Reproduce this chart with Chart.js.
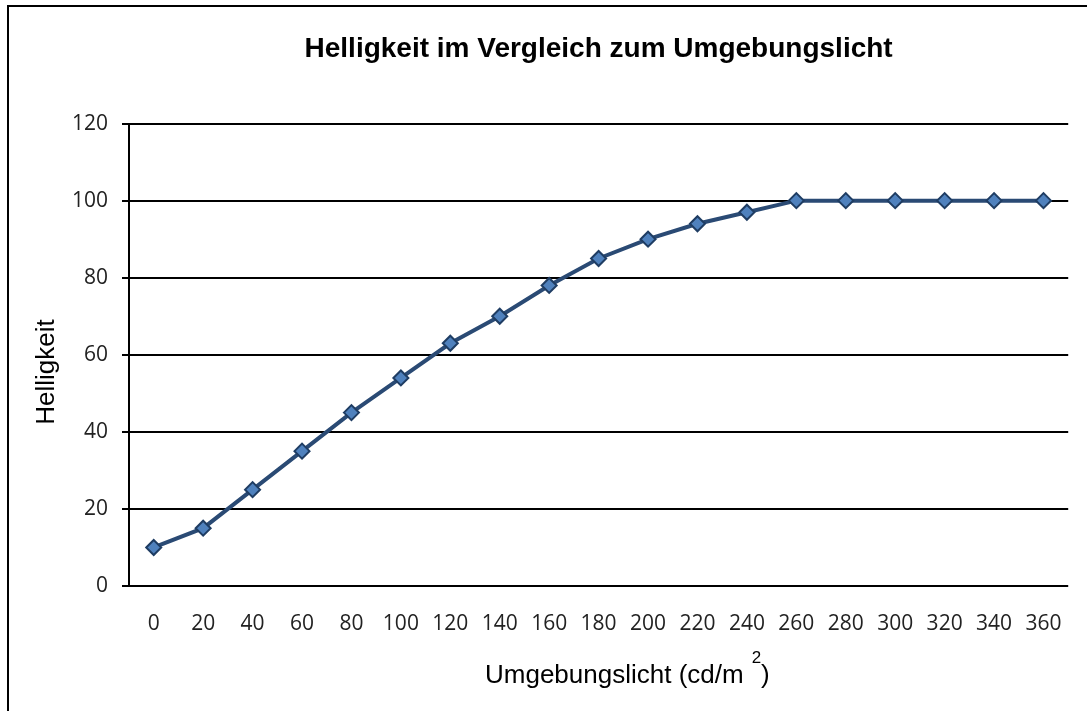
<!DOCTYPE html>
<html>
<head>
<meta charset="utf-8">
<script src="https://cdn.jsdelivr.net/npm/chart.js@4.4.1/dist/chart.umd.min.js"></script>
<style>
  html, body { margin: 0; padding: 0; background: #fff; overflow: hidden; }
  .frame {
    position: absolute; left: 7px; top: 5px; width: 2000px; height: 2000px;
    border-left: 2px solid #000; border-top: 2px solid #000;
  }
  #myChart { position: absolute; left: 0; top: 0; }
</style>
</head>
<body>
<div class="frame"></div>
<canvas id="myChart" width="1087" height="711"></canvas>
<script>
// Umgebungslicht in cd/m2 (Kategorien)
const ambientLight = ['0', '20', '40', '60', '80', '100', '120', '140', '160', '180',
  '200', '220', '240', '260', '280', '300', '320', '340', '360'];
// Helligkeit je Kategorie
const brightness = [10, 15, 25, 35, 45, 54, 63, 70, 78, 85, 90, 94, 97, 100, 100, 100, 100, 100, 100];
const yMin = 0;
const yMax = 120;
const yStep = 20;

const chartTitle = 'Helligkeit im Vergleich zum Umgebungslicht';
const yTitle = 'Helligkeit';
const xTitle = 'Umgebungslicht (cd/m';

const tickFont = { family: "'Open Sans', sans-serif", size: 21 };

// Achsentitel selbst zeichnen (hochgestellte 2 im x-Titel)
const axisTitles = {
  id: 'axisTitles',
  afterDraw(chart) {
    const c = chart.ctx;
    c.save();
    c.fillStyle = '#000';
    c.font = "26px 'Liberation Sans', Arial, sans-serif";

    // y-Titel
    c.save();
    c.translate(47, 372);
    c.rotate(-Math.PI / 2);
    c.textAlign = 'center';
    c.textBaseline = 'middle';
    c.fillText(yTitle, 0, 0);
    c.restore();

    // x-Titel
    c.textAlign = 'left';
    c.textBaseline = 'alphabetic';
    let x = 485;
    c.fillText(xTitle, x, 683);
    x += c.measureText(xTitle).width + 8;
    c.font = "17px 'Liberation Sans', Arial, sans-serif";
    c.fillText('2', x, 663);
    x += c.measureText('2').width;
    c.font = "26px 'Liberation Sans', Arial, sans-serif";
    c.fillText(')', x, 683);
    c.restore();
  }
};

const ctx = document.getElementById('myChart');

new Chart(ctx, {
  type: 'line',
  data: {
    labels: ambientLight,
    datasets: [{
      label: yTitle,
      data: brightness,
      borderColor: '#2a4a74',
      borderWidth: 4,
      tension: 0,
      pointStyle: 'rectRot',
      pointRadius: 7.5,
      pointBackgroundColor: '#4f81bd',
      pointBorderColor: '#1f3d63',
      pointBorderWidth: 2
    }]
  },
  options: {
    responsive: false,
    animation: false,
    layout: { padding: { left: 0, right: 17, top: 0, bottom: 0 } },
    plugins: {
      legend: { display: false },
      tooltip: { enabled: false },
      title: {
        display: true,
        fullSize: false, // über der Zeichenfläche zentriert
        text: chartTitle,
        color: '#000',
        font: { family: "'Liberation Sans', Arial, sans-serif", size: 28, weight: 'bold' },
        padding: { top: 32, bottom: 58 }
      }
    },
    scales: {
      x: {
        offset: true,
        grid: { display: false, drawTicks: false },
        border: { display: false },
        ticks: { font: tickFont, color: '#222', padding: 25, maxRotation: 0, autoSkip: false },
        afterFit: s => { s.height = 125; }
      },
      y: {
        min: yMin,
        max: yMax,
        ticks: { stepSize: yStep, font: tickFont, color: '#222', padding: 14 },
        grid: { color: '#000', lineWidth: 2, tickLength: 7 },
        border: { display: true, color: '#000', width: 2 },
        afterFit: s => { s.width = 129; }
      }
    }
  },
  plugins: [axisTitles]
});
</script>
</body>
</html>
